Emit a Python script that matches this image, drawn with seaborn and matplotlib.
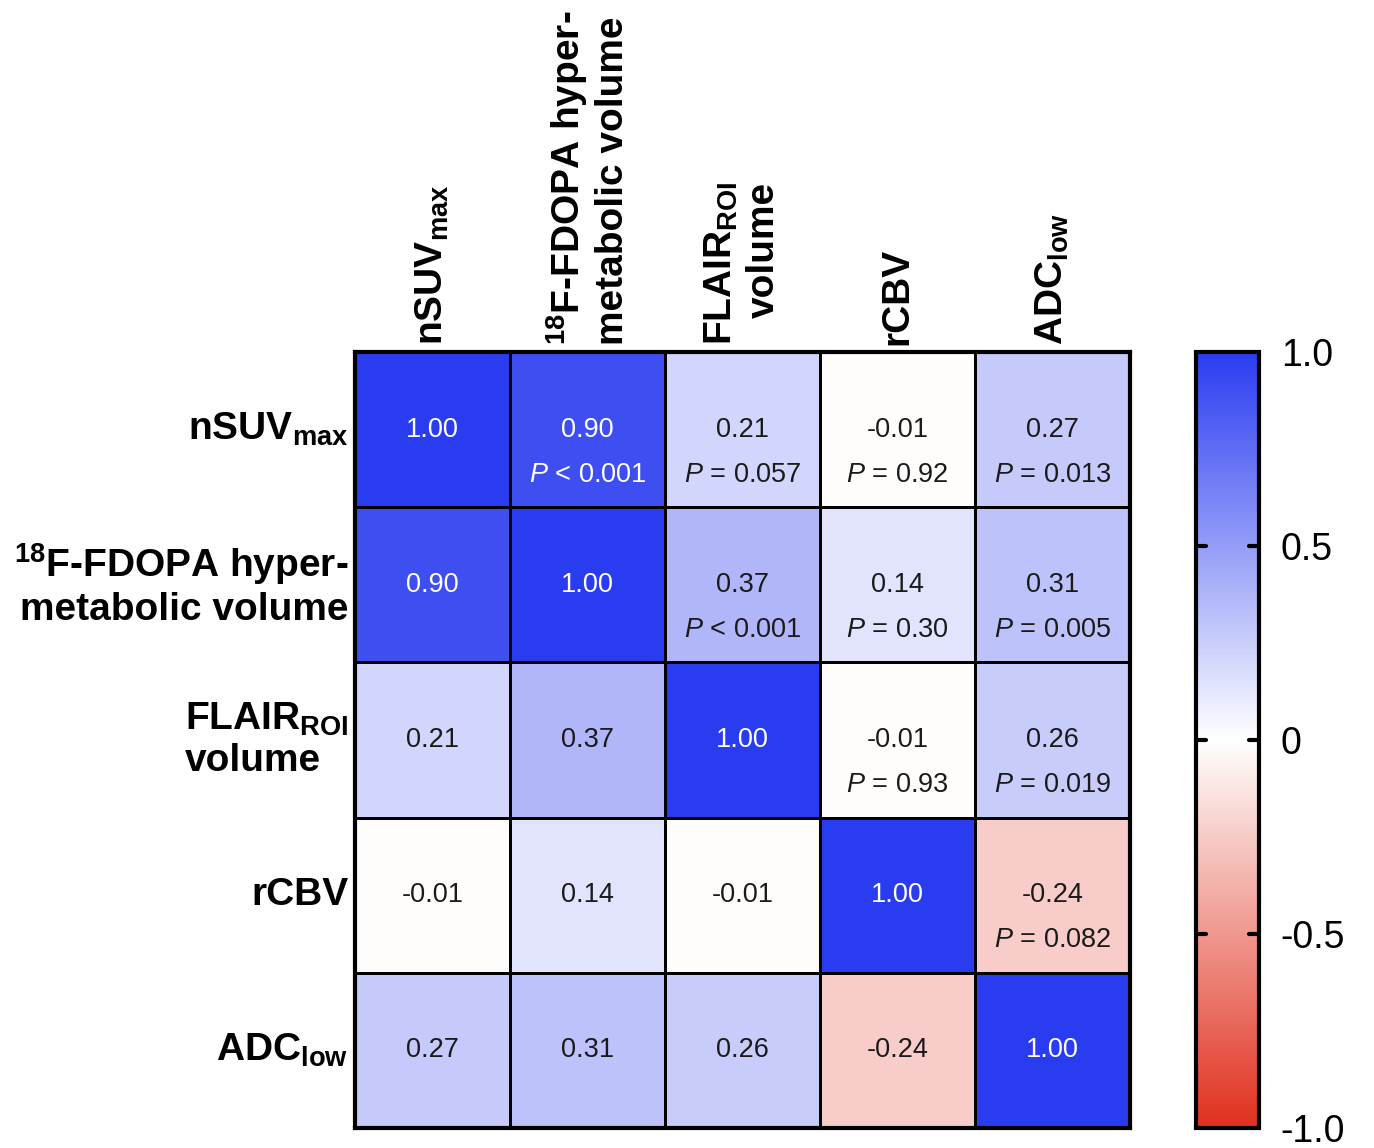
import numpy as np
import pandas as pd
import matplotlib
matplotlib.use("Agg")
import matplotlib.pyplot as plt
import seaborn as sns
from matplotlib.colors import LinearSegmentedColormap

# ---- data ----
row_labels = [r"nSUV$_{\mathbf{max}}$",
              "$^{\\mathbf{18}}$F-FDOPA hyper-\nmetabolic volume",
              "FLAIR$_{\\mathbf{ROI}}$\nvolume",
              "rCBV",
              r"ADC$_{\mathbf{low}}$"]
col_labels = row_labels
r_values = [
    [1.00, 0.90, 0.21, -0.01, 0.27],
    [0.90, 1.00, 0.37, 0.14, 0.31],
    [0.21, 0.37, 1.00, -0.01, 0.26],
    [-0.01, 0.14, -0.01, 1.00, -0.24],
    [0.27, 0.31, 0.26, -0.24, 1.00],
]
p_texts = {
    (0, 1): "< 0.001", (0, 2): "= 0.057", (0, 3): "= 0.92", (0, 4): "= 0.013",
    (1, 2): "< 0.001", (1, 3): "= 0.30", (1, 4): "= 0.005",
    (2, 3): "= 0.93", (2, 4): "= 0.019",
    (3, 4): "= 0.082",
}
cbar_ticks = [1.0, 0.5, 0.0, -0.5, -1.0]
cbar_ticklabels = ["1.0", "0.5", "0", "-0.5", "-1.0"]
cbar_inner_marks = [0.5, 0.0, -0.5]

# ---- style ----
sns.set_style("white")
plt.rcParams["font.family"] = ["Liberation Sans", "DejaVu Sans"]
plt.rcParams["mathtext.fontset"] = "custom"
plt.rcParams["mathtext.rm"] = "Liberation Sans"
plt.rcParams["mathtext.bf"] = "Liberation Sans:bold"
plt.rcParams["mathtext.it"] = "Liberation Sans:italic"
plt.rcParams["text.color"] = "black"
plt.rcParams["xtick.color"] = "black"
plt.rcParams["ytick.color"] = "black"

cmap = LinearSegmentedColormap.from_list(
    "rwb", ["#E0301E", "#FFFFFF", "#2A3CF0"])

df = pd.DataFrame(r_values, index=row_labels, columns=col_labels)

fig = plt.figure(figsize=(13.74, 11.48), dpi=100)
ax = fig.add_axes([0.2584, 0.0174, 0.5640, 0.6760])
cax = fig.add_axes([0.8705, 0.0174, 0.0455, 0.6760])

sns.heatmap(df, ax=ax, cmap=cmap, vmin=-1, vmax=1, linewidths=1.8,
            linecolor="black", cbar=True, cbar_ax=cax, square=False)

# cell annotations
n = len(r_values)
for i in range(n):
    for j in range(n):
        v = r_values[i][j]
        col = "white" if abs(v) > 0.6 else "#1a1a1a"
        ax.text(j + 0.5, i + 0.5, f"{v:.2f}", ha="center", va="center",
                fontsize=19.5, color=col)
        if (i, j) in p_texts:
            ax.text(j + 0.5, i + 0.79, r"$\mathit{P}$ " + p_texts[(i, j)],
                    ha="center", va="center", fontsize=19.5, color=col)

# borders
for s in ax.spines.values():
    s.set_visible(True)
    s.set_linewidth(3)
    s.set_color("black")

# tick labels
ax.xaxis.tick_top()
ax.tick_params(axis="both", length=0, pad=5)
ax.set_xticklabels(col_labels, rotation=90, fontsize=28, fontweight="bold",
                   ha="center", va="bottom", color="black")
ax.set_yticklabels(row_labels, rotation=0, fontsize=28, fontweight="bold",
                   ha="right", va="center", color="black")
xt = ax.get_xticklabels()
xt[1].set_multialignment("left")
xt[2].set_multialignment("right")
yt = ax.get_yticklabels()
yt[1].set_multialignment("right")
yt[2].set_multialignment("left")
ax.set_xlabel("")
ax.set_ylabel("")

# colorbar
cbar = ax.collections[0].colorbar
cbar.set_ticks(cbar_ticks)
cbar.set_ticklabels(cbar_ticklabels)
cbar.outline.set_linewidth(3)
cbar.outline.set_edgecolor("black")
cax.tick_params(axis="y", direction="in", left=False, right=False, length=0,
                labelsize=27, pad=16, labelcolor="black")
for t in cbar_inner_marks:
    cax.axhline(t, xmin=0, xmax=0.16, color="black", lw=3, zorder=5)
    cax.axhline(t, xmin=0.84, xmax=1, color="black", lw=3, zorder=5)

fig.savefig("out.png", dpi=100, facecolor="white")
